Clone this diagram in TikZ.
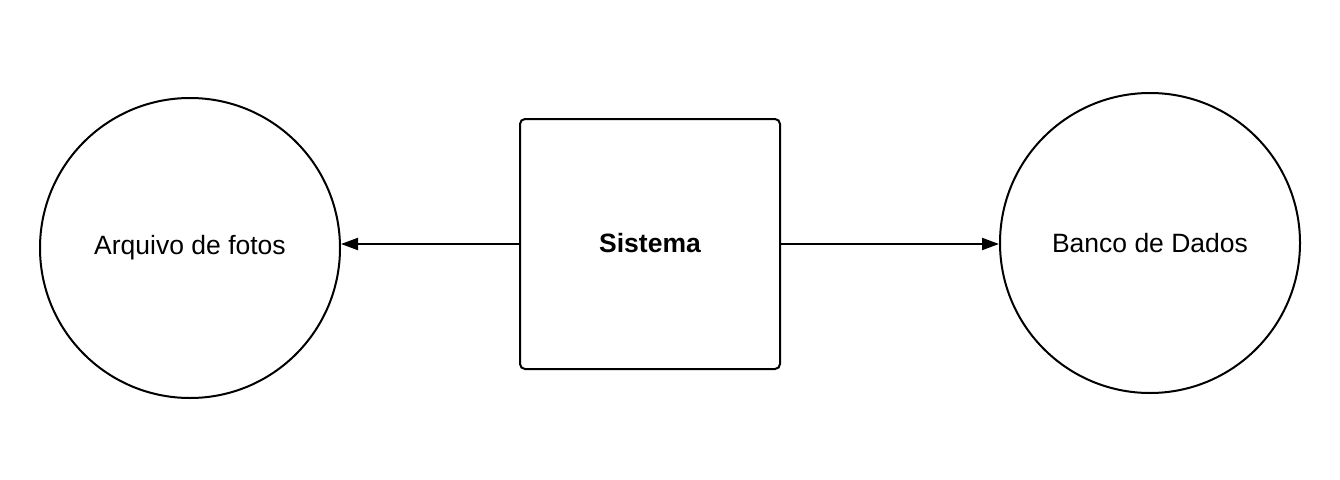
\documentclass[tikz,border=0pt]{standalone}
\usepackage{fontspec}
\setmainfont{Liberation Sans}
\usetikzlibrary{arrows.meta}
\tikzset{
  depositoline/.style={circle, draw, line width=2pt, minimum size=300pt, inner sep=0pt, font=\fontsize{26.5}{30}\selectfont},
  sistemabox/.style={draw, line width=2pt, rounded corners=5pt, minimum width=260pt, minimum height=250pt, inner sep=0pt, font=\fontsize{26.5}{30}\selectfont\bfseries},
  fluxo/.style={-{Triangle[length=17pt, width=12pt]}, line width=2pt},
}
\begin{document}
\begin{tikzpicture}[x=1pt,y=-1pt]
\useasboundingbox (0,0) rectangle (1340,479);
\node[depositoline] (arquivo) at (190,248) {Arquivo de fotos};
\node[sistemabox] (sistema) at (650,244) {\raisebox{3pt}{Sistema}};
\node[depositoline] (banco) at (1150,243) {Banco de Dados};
\draw[fluxo] (sistema.west) -- (sistema.west -| arquivo.east);
\draw[fluxo] (sistema.east) -- (sistema.east -| banco.west);
\end{tikzpicture}
\end{document}
